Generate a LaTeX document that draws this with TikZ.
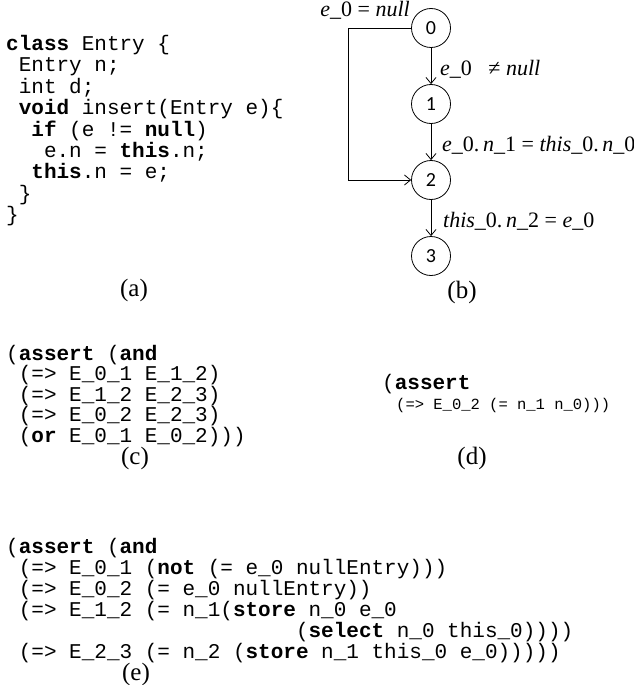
\documentclass[tikz,border=0pt]{standalone}
\usepackage{fontspec}
\setmainfont{Liberation Serif}
\newfontfamily\codefont{Liberation Mono}
\newfontfamily\numfont{Carlito}
\usetikzlibrary{arrows.meta}
\newcommand{\kw}[1]{\textbf{#1}}
\newcommand{\ind}[1]{\hspace*{#1\dimexpr 0.6em\relax}}
\newcommand{\mv}[1]{\textit{#1}}
\tikzset{
  code/.style={font=\codefont\fontsize{21}{21}\selectfont, anchor=base west, inner sep=0pt},
  smallcode/.style={font=\codefont\fontsize{15.5}{15.5}\selectfont, anchor=base west, inner sep=0pt},
  captxt/.style={font=\fontsize{25}{25}\selectfont, inner sep=0pt},
  state/.style={circle, draw, minimum size=39pt, inner sep=0pt, line width=0.8pt,
                font=\numfont\fontsize{20}{20}\selectfont},
  lbl/.style={font=\fontsize{22}{22}\selectfont, inner sep=0pt},
  edge/.style={-{Straight Barb[length=6pt,width=10pt]}, line width=0.8pt},
}
\begin{document}
\begin{tikzpicture}[x=1pt,y=-1pt]
\useasboundingbox (0,0) rectangle (634,685);
% (a) code
\node[code] (a1) at (6,50.5) {\kw{class} Entry \{};
\node[code] (a2) at (6,71.9) {\ind{1}Entry n;};
\node[code] (a3) at (6,93.3) {\ind{1}int d;};
\node[code] (a4) at (6,114.7) {\ind{1}\kw{void} insert(Entry e)\{};
\node[code] (a5) at (6,136.1) {\ind{2}\kw{if} (e != \kw{null})};
\node[code] (a6) at (6,157.5) {\ind{3}e.n = \kw{this}.n;};
\node[code] (a7) at (6,178.9) {\ind{2}\kw{this}.n = e;};
\node[code] (a8) at (6,200.3) {\ind{1}\}};
\node[code] (a9) at (6,221.7) {\}};
\node[captxt] (capa) at (134,290) {(a)};
% (b) graph
\node[state] (n0) at (431,28) {0};
\node[state] (n1) at (431,104) {1};
\node[state] (n2) at (431,180) {2};
\node[state] (n3) at (431,256) {3};
\coordinate (byA) at (348,28);
\coordinate (byB) at (348,180);
\draw[edge] (n0) -- (n1);
\draw[edge] (n1) -- (n2);
\draw[edge] (n2) -- (n3);
\draw[edge] (n0.west) -- (byA) -- (byB) -- (n2.west);
\node[lbl, anchor=base east] (l0) at (410,17) {\mv{e}\_0 = \mv{null}};
\node[lbl, anchor=base west] (l1) at (440,75) {\mv{e}\_0\hspace{0.5em} ≠ \mv{null}};
\node[lbl, anchor=base west] (l2) at (442,151) {\mv{e}\_0.\,\mv{n}\_1 = \mv{this}\_0.\,\mv{n}\_0};
\node[lbl, anchor=base west] (l3) at (443,227) {\mv{this}\_0.\,\mv{n}\_2 = \mv{e}\_0};
\node[captxt] (capb) at (462,292) {(b)};
% (c)
\node[code] (c1) at (6,360) {(\kw{assert} (\kw{and}};
\node[code] (c2) at (6,380.5) {\ind{1}(=> E\_0\_1 E\_1\_2)};
\node[code] (c3) at (6,401) {\ind{1}(=> E\_1\_2 E\_2\_3)};
\node[code] (c4) at (6,421.5) {\ind{1}(=> E\_0\_2 E\_2\_3)};
\node[code] (c5) at (6,442) {\ind{1}(\kw{or} E\_0\_1 E\_0\_2)))};
\node[captxt] (capc) at (135,458) {(c)};
% (d)
\node[code] (d1) at (382,389) {(\kw{assert}};
\node[smallcode] (d2) at (396,409) {(=> E\_0\_2 (= n\_1 n\_0)))};
\node[captxt] (capd) at (472,458) {(d)};
% (e)
\node[code] (e1) at (6,553) {(\kw{assert} (\kw{and}};
\node[code] (e2) at (6,574) {\ind{1}(=> E\_0\_1 (\kw{not} (= e\_0 nullEntry)))};
\node[code] (e3) at (6,595) {\ind{1}(=> E\_0\_2 (= e\_0 nullEntry))};
\node[code] (e4) at (6,616) {\ind{1}(=> E\_1\_2 (= n\_1(\kw{store} n\_0 e\_0};
\node[code] (e5) at (6,637) {\ind{23}(\kw{select} n\_0 this\_0))))};
\node[code] (e6) at (6,658) {\ind{1}(=> E\_2\_3 (= n\_2 (\kw{store} n\_1 this\_0 e\_0)))))};
\node[captxt] (cape) at (136,674) {(e)};
\end{tikzpicture}
\end{document}
